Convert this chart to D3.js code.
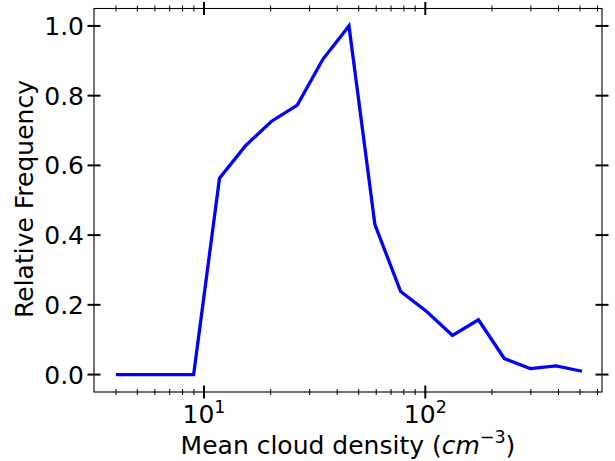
<!DOCTYPE html>
<html>
<head>
<meta charset="utf-8">
<script src="https://cdn.jsdelivr.net/npm/d3@7"></script>
<style>
  html, body { margin: 0; padding: 0; background: #fff; }
  svg text { font-family: "DejaVu Sans", sans-serif; fill: #000; }
</style>
</head>
<body>
<svg id="chart" width="615" height="461"></svg>
<script>
// ---- data ----
const density = [4.0, 5.24, 6.86, 8.98, 11.75, 15.38, 20.14, 26.4, 34.5, 45.2,
                 59.2, 77.4, 101.4, 132.7, 173.8, 227.5, 297.8, 390, 510.5];
const relFreq = [0, 0, 0, 0, 0.563, 0.656, 0.726, 0.773, 0.905, 1.0,
                 0.430, 0.238, 0.181, 0.1125, 0.157, 0.046, 0.017, 0.025, 0.0095];
const xMajorTicks = [10, 100];
const xMajorExp = ["1", "2"];
const xMinorTicks = [4, 5, 6, 7, 8, 9, 20, 30, 40, 50, 60, 70, 80, 90, 200, 300, 400, 500, 600];
const yTicks = [0.0, 0.2, 0.4, 0.6, 0.8, 1.0];
const xDomain = [3.184, 628.7];
const yDomain = [-0.05, 1.05];

// ---- layout ----
const L = 94, R = 602, T = 8.5, B = 392;
const svg = d3.select("#chart");
const x = d3.scaleLog().domain(xDomain).range([L, R]);
const y = d3.scaleLinear().domain(yDomain).range([B, T]);

// line
const line = d3.line().x((d, i) => x(density[i])).y(d => y(d));
svg.append("path")
  .datum(relFreq)
  .attr("d", line)
  .attr("fill", "none")
  .attr("stroke", "#0000ff")
  .attr("stroke-width", 3.3)
  .attr("stroke-linejoin", "miter");

// frame
svg.append("rect")
  .attr("x", L).attr("y", T).attr("width", R - L).attr("height", B - T)
  .attr("fill", "none").attr("stroke", "#000").attr("stroke-width", 1.1);

const ticks = svg.append("g");
// x ticks, bottom and top (inout)
[B, T].forEach(yy => {
  ticks.selectAll(null).data(xMinorTicks).enter().append("line")
    .attr("x1", d => x(d)).attr("x2", d => x(d))
    .attr("y1", yy - 3).attr("y2", yy + 3)
    .attr("stroke", "#000").attr("stroke-width", 1);
  ticks.selectAll(null).data(xMajorTicks).enter().append("line")
    .attr("x1", d => x(d)).attr("x2", d => x(d))
    .attr("y1", yy - 6.5).attr("y2", yy + 6.5)
    .attr("stroke", "#000").attr("stroke-width", 2);
});
// y ticks, left and right
[L, R].forEach(xx => {
  ticks.selectAll(null).data(yTicks).enter().append("line")
    .attr("x1", xx - 6.5).attr("x2", xx + 6.5)
    .attr("y1", d => y(d)).attr("y2", d => y(d))
    .attr("stroke", "#000").attr("stroke-width", 2);
});

// x tick labels
xMajorTicks.forEach((v, i) => {
  const t = svg.append("text")
    .attr("x", x(v)).attr("y", 422.5)
    .attr("text-anchor", "middle")
    .style("font-size", "25px");
  t.append("tspan").text("10");
  t.append("tspan").attr("dy", -9.5).style("font-size", "17.5px").text(xMajorExp[i]);
});

// y tick labels
svg.selectAll(null).data(yTicks).enter().append("text")
  .attr("x", 84).attr("y", d => y(d) + 9)
  .attr("text-anchor", "end")
  .style("font-size", "25px")
  .text(d => d.toFixed(1));

// x label
const xl = svg.append("text")
  .attr("x", (L + R) / 2).attr("y", 454)
  .attr("text-anchor", "middle")
  .style("font-size", "25px");
xl.append("tspan").text("Mean cloud density (");
xl.append("tspan").style("font-style", "italic").text("cm");
xl.append("tspan").attr("dy", -11.5).style("font-size", "17.5px").text("\u22123");
xl.append("tspan").attr("dy", 11.5).text(")");

// y label
svg.append("text")
  .attr("transform", "translate(33,199) rotate(-90)")
  .attr("text-anchor", "middle")
  .style("font-size", "25px")
  .text("Relative Frequency");
</script>
</body>
</html>
